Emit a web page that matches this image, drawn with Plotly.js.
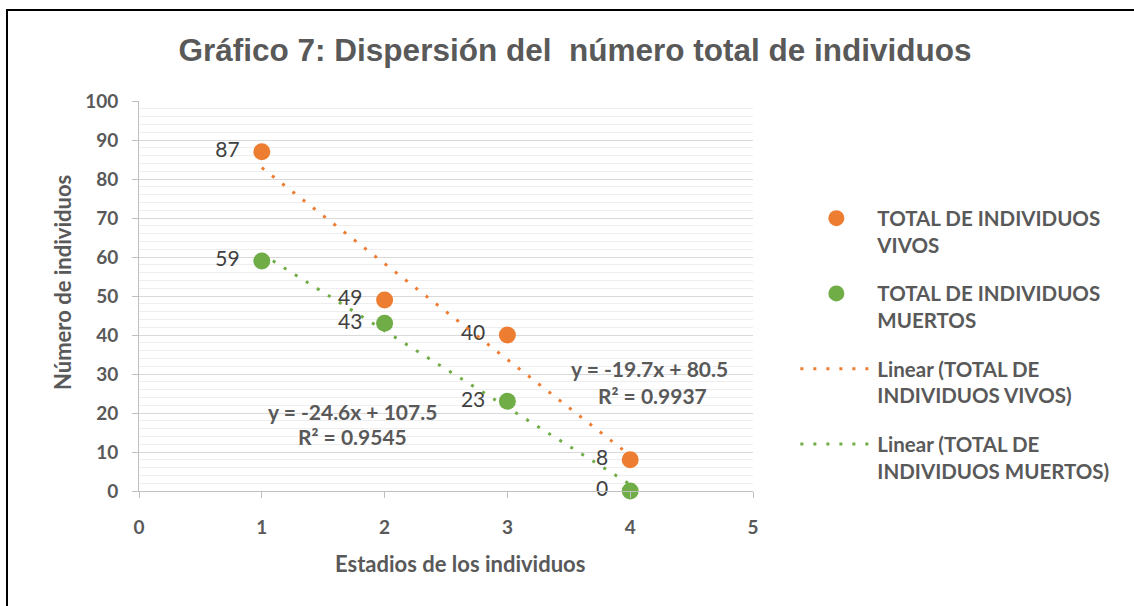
<!DOCTYPE html>
<html>
<head>
<meta charset="utf-8">
<script src="https://cdn.plot.ly/plotly-3.0.1.min.js"></script>
<style>
html,body{margin:0;padding:0;background:#fff;}
#wrap{position:relative;width:1134px;height:606px;overflow:hidden;}
#chart{width:1134px;height:606px;}
#frame{position:absolute;left:6px;top:9px;width:1200px;height:700px;border-left:2px solid #000;border-top:2px solid #000;pointer-events:none;}
</style>
</head>
<body>
<div id="wrap"><div id="chart"></div><div id="frame"></div></div>
<script>
const stages = [1, 2, 3, 4];
const vivos = [87, 49, 40, 8];
const muertos = [59, 43, 23, 0];
const nameVivos = 'TOTAL DE INDIVIDUOS<br>VIVOS';
const nameMuertos = 'TOTAL DE INDIVIDUOS<br>MUERTOS';
const nameTrendVivos = 'Linear (TOTAL DE<br>INDIVIDUOS VIVOS)';
const nameTrendMuertos = 'Linear (TOTAL DE<br>INDIVIDUOS MUERTOS)';
const eqLabels = ['y = -19.7x + 80.5', 'R² = 0.9937', 'y = -24.6x + 107.5', 'R² = 0.9545'];
const eqPos = [[4.16, 31.3], [4.18, 24.6], [1.739, 20.5], [1.739, 14.0]];

function fit(xs, ys) {
  const n = xs.length;
  const mx = xs.reduce((a, b) => a + b, 0) / n;
  const my = ys.reduce((a, b) => a + b, 0) / n;
  let sxy = 0, sxx = 0;
  for (let i = 0; i < n; i++) { sxy += (xs[i] - mx) * (ys[i] - my); sxx += (xs[i] - mx) ** 2; }
  const m = sxy / sxx, b = my - m * mx;
  return xs.map(x => m * x + b);
}

const ORANGE = '#ED7D31', GREEN = '#70AD47';
const FONT = 'Lato, Calibri, sans-serif';
const GRAY = '#595959';
const LBL = {family: FONT, size: 21, color: '#404040'};

const traces = [
  {x: stages, y: vivos, type: 'scatter', mode: 'markers+text', name: nameVivos, legendgroup: 'a',
   marker: {color: ORANGE, size: 17}, text: vivos.map(v => v + '\u2002'), textposition: 'middle left',
   textfont: LBL, cliponaxis: false},
  {x: stages, y: muertos, type: 'scatter', mode: 'markers+text', name: nameMuertos, legendgroup: 'b',
   marker: {color: GREEN, size: 17}, text: muertos.map(v => v + '\u2002'), textposition: 'middle left',
   textfont: LBL, cliponaxis: false},
  {x: stages, y: fit(stages, vivos), type: 'scatter', mode: 'lines', name: nameTrendVivos, legendgroup: 'c',
   line: {color: ORANGE, width: 3, dash: '3px,10px'}},
  {x: stages, y: fit(stages, muertos), type: 'scatter', mode: 'lines', name: nameTrendMuertos, legendgroup: 'd',
   line: {color: GREEN, width: 3, dash: '3px,10px'}}
];

const annotations = eqLabels.map((t, i) => ({
  x: eqPos[i][0], y: eqPos[i][1], xref: 'x', yref: 'y', text: '<b>' + t + '</b>', showarrow: false,
  font: {family: FONT, size: 21, color: GRAY}, xanchor: 'center', yanchor: 'middle'
}));

const L = 139, R = 381, T = 101, B = 115, W = 1134, H = 606;
const pw = W - L - R, ph = H - T - B;
const px2x = p => (p - L) / pw, py2y = p => (H - B - p) / ph;
annotations.push({x: px2x(460), y: py2y(563), xref: 'paper', yref: 'paper', xanchor: 'center', yanchor: 'middle',
  text: '<b>Estadios de los individuos</b>', showarrow: false,
  font: {family: FONT, size: 22, color: GRAY}});
annotations.push({x: px2x(62), y: py2y(283), xref: 'paper', yref: 'paper', xanchor: 'center', yanchor: 'middle',
  text: '<b>Número de individuos</b>', showarrow: false, textangle: -90,
  font: {family: FONT, size: 22, color: GRAY}});

const layout = {
  width: W, height: H,
  margin: {l: L, r: R, t: T, b: B},
  paper_bgcolor: '#fff', plot_bgcolor: '#fff',
  title: {text: '<b>Gráfico 7: Dispersión del  número total de individuos</b>',
    font: {family: 'Liberation Sans Narrow, Arial Narrow, Arial, sans-serif', size: 31.5, color: GRAY},
    x: 575 / W, xref: 'container', xanchor: 'center', y: 1 - 50 / H, yref: 'container', yanchor: 'middle'},
  xaxis: {range: [0, 5], dtick: 1, tick0: 0, showgrid: false, zeroline: false,
    showline: true, linecolor: '#bfbfbf', linewidth: 1, ticks: 'outside', ticklen: 6, tickcolor: '#bfbfbf',
    tickfont: {family: FONT, size: 19, color: GRAY, weight: 'bold'}, ticklabelstandoff: 13},
  yaxis: {range: [0, 100], dtick: 10, tick0: 0, showgrid: true, gridcolor: '#d9d9d9', gridwidth: 1, zeroline: false,
    showline: true, linecolor: '#bfbfbf', linewidth: 1, ticks: 'outside', ticklen: 6, tickcolor: '#bfbfbf',
    tickfont: {family: FONT, size: 19, color: GRAY, weight: 'bold'}, ticklabelstandoff: 10,
    minor: {dtick: 2, showgrid: true, gridcolor: '#eeeeee', gridwidth: 1, ticks: ''}},
  showlegend: true,
  legend: {x: 1.069, xanchor: 'left', y: 0.7505, yanchor: 'top', valign: 'top', tracegroupgap: 19,
    font: {family: FONT, size: 20.5, color: GRAY}, itemwidth: 72, bgcolor: 'rgba(0,0,0,0)'},
  annotations: annotations
};

traces.forEach(t => { t.name = '<b>' + t.name.replace('<br>', '</b><br><b>') + '</b>'; });

Plotly.newPlot('chart', traces, layout, {displayModeBar: false, staticPlot: true});
</script>
</body>
</html>
